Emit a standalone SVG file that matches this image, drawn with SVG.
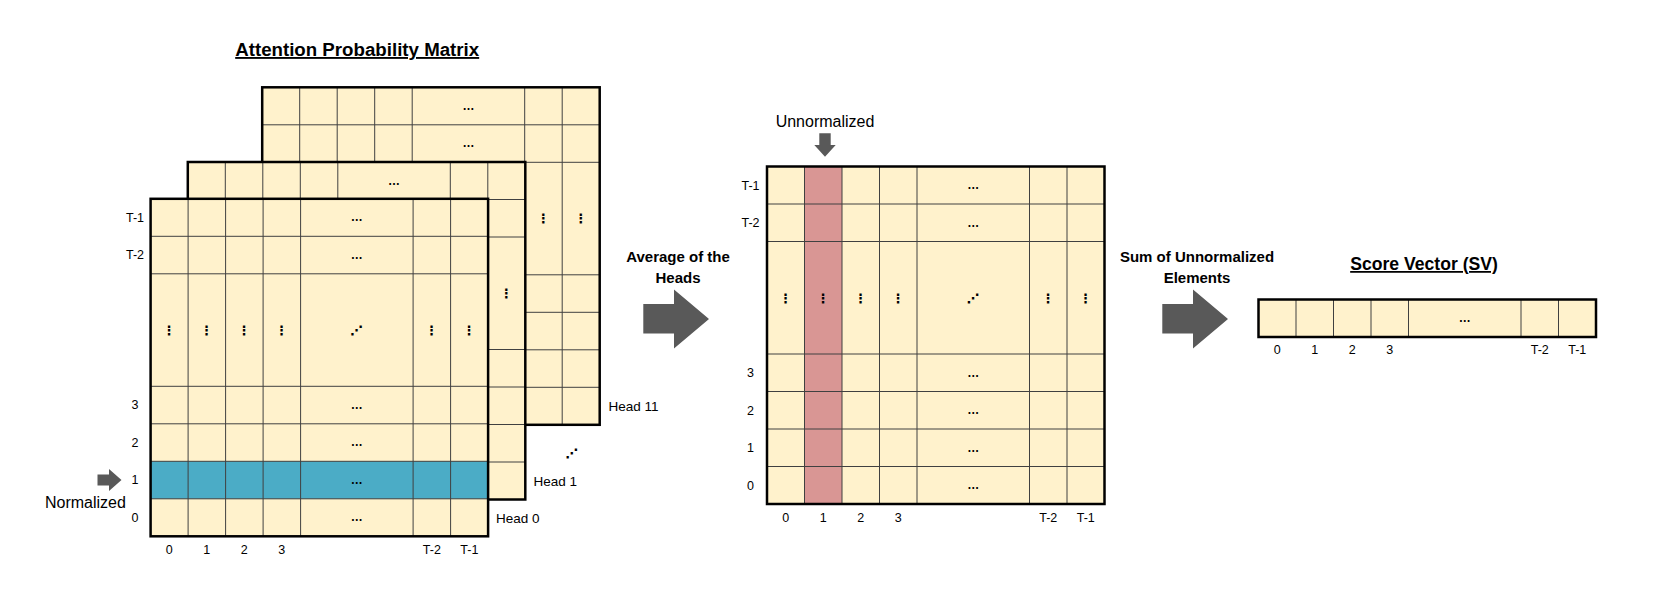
<svg xmlns="http://www.w3.org/2000/svg" width="1661" height="600" viewBox="0 0 1661 600">
<style>
.t{font-family:"Liberation Sans",Arial,sans-serif;fill:#000}
.lbl{font-size:12.5px;text-anchor:middle}
.hd{font-size:13.5px}
.ttl{font-weight:bold;text-decoration:underline;text-anchor:middle}
.op{font-weight:bold;font-size:15px;text-anchor:middle}
.arrow{fill:#595959}
</style>
<defs>
<rect id="bg" width="337.5" height="337.5" fill="#FFF2CC"/>
<g id="grid">
<path d="M37.5 0V337.5M75 0V337.5M112.5 0V337.5M150 0V337.5M262.5 0V337.5M300 0V337.5M0 37.5H337.5M0 75H337.5M0 187.5H337.5M0 225H337.5M0 262.5H337.5M0 300H337.5" fill="none" stroke="#404040" stroke-width="1"/>
<g font-family="Liberation Sans, Arial, sans-serif" font-size="12" font-weight="bold" text-anchor="middle" fill="#000">
<text x="206.25" y="22.5">…</text>
<text x="206.25" y="60">…</text>
<text x="206.25" y="210">…</text>
<text x="206.25" y="247.5">…</text>
<text x="206.25" y="285">…</text>
<text x="206.25" y="322.5">…</text>
</g>
<g font-family="DejaVu Sans, sans-serif" font-size="13" font-weight="bold" text-anchor="middle" fill="#000">
<text x="18.75" y="136">⋮</text>
<text x="56.25" y="136">⋮</text>
<text x="93.75" y="136">⋮</text>
<text x="131.25" y="136">⋮</text>
<text x="206.25" y="136">⋰</text>
<text x="281.25" y="136">⋮</text>
<text x="318.75" y="136">⋮</text>
</g>
<rect width="337.5" height="337.5" fill="none" stroke="#000" stroke-width="2.5"/>
</g>
</defs>

<text class="t ttl" x="357.2" y="56" font-size="18.7">Attention Probability Matrix</text>

<g id="head11" transform="translate(262.2,87.3)">
<use href="#bg"/>
<use href="#grid"/>
</g>
<text class="t hd" x="608.5" y="410.5">Head 11</text>

<g id="head1" transform="translate(187.8,162)">
<use href="#bg"/>
<use href="#grid"/>
</g>
<text class="t hd" x="533.5" y="485.8">Head 1</text>
<text x="572" y="458" font-family="DejaVu Sans, sans-serif" font-size="13" font-weight="bold" text-anchor="middle">⋰</text>

<g id="head0" transform="translate(150.6,198.8)">
<use href="#bg"/>
<rect x="0" y="262.5" width="337.5" height="37.5" fill="#4BACC6"/>
<use href="#grid"/>
<g class="t lbl">
<text x="-15.6" y="23">T-1</text>
<text x="-15.6" y="60.5">T-2</text>
<text x="-15.6" y="210.5">3</text>
<text x="-15.6" y="248">2</text>
<text x="-15.6" y="285.5">1</text>
<text x="-15.6" y="323">0</text>
<text x="18.75" y="355.5">0</text>
<text x="56.25" y="355.5">1</text>
<text x="93.75" y="355.5">2</text>
<text x="131.25" y="355.5">3</text>
<text x="281.25" y="355.5">T-2</text>
<text x="318.75" y="355.5">T-1</text>
</g>
</g>
<text class="t hd" x="496" y="522.8">Head 0</text>

<g id="normalized">
<polygon class="arrow" points="97.5,474.5 109,474.5 109,469 121.5,480 109,491 109,485.5 97.5,485.5"/>
<text class="t" x="45" y="507.5" font-size="16">Normalized</text>
</g>

<g id="avg-label">
<text class="t op" x="678" y="262">Average of the</text>
<text class="t op" x="678" y="283">Heads</text>
</g>

<g id="average" transform="translate(767,166.5)">
<use href="#bg"/>
<rect x="37.5" y="0" width="37.5" height="337.5" fill="#D99694"/>
<use href="#grid"/>
<g class="t lbl">
<text x="-16.5" y="23">T-1</text>
<text x="-16.5" y="60.5">T-2</text>
<text x="-16.5" y="210.5">3</text>
<text x="-16.5" y="248">2</text>
<text x="-16.5" y="285.5">1</text>
<text x="-16.5" y="323">0</text>
<text x="18.75" y="355.8">0</text>
<text x="56.25" y="355.8">1</text>
<text x="93.75" y="355.8">2</text>
<text x="131.25" y="355.8">3</text>
<text x="281.25" y="355.8">T-2</text>
<text x="318.75" y="355.8">T-1</text>
</g>
</g>

<g id="unnormalized">
<text class="t" x="825" y="126.5" font-size="16" text-anchor="middle">Unnormalized</text>
<polygon class="arrow" points="819.3,133.3 830.7,133.3 830.7,145 835.7,145 825,156.7 814.3,145 819.3,145"/>
</g>

<g id="sum-label">
<text class="t op" x="1197" y="262">Sum of Unnormalized</text>
<text class="t op" x="1197" y="283">Elements</text>
</g>

<g id="score-vector">
<text class="t ttl" x="1424" y="270" font-size="17.6">Score Vector (SV)</text>
<rect x="1258.5" y="299.5" width="337.5" height="37.5" fill="#FFF2CC"/>
<path d="M1296 299.5V337M1333.5 299.5V337M1371 299.5V337M1408.5 299.5V337M1521 299.5V337M1558.5 299.5V337" fill="none" stroke="#404040" stroke-width="1"/>
<rect x="1258.5" y="299.5" width="337.5" height="37.5" fill="none" stroke="#000" stroke-width="2.5"/>
<text class="t" x="1464.75" y="322" font-size="12" font-weight="bold" text-anchor="middle">…</text>
<g class="t lbl">
<text x="1277.25" y="353.8">0</text>
<text x="1314.75" y="353.8">1</text>
<text x="1352.25" y="353.8">2</text>
<text x="1389.75" y="353.8">3</text>
<text x="1539.75" y="353.8">T-2</text>
<text x="1577.25" y="353.8">T-1</text>
</g>
</g>

<g id="connectors">
<polygon class="arrow" points="643.3,304 674,304 674,289.5 709,319 674,348.5 674,333.5 643.3,333.5"/>
<polygon class="arrow" points="1162.3,304 1193,304 1193,289.5 1228,319 1193,348.5 1193,333.5 1162.3,333.5"/>
</g>
</svg>
